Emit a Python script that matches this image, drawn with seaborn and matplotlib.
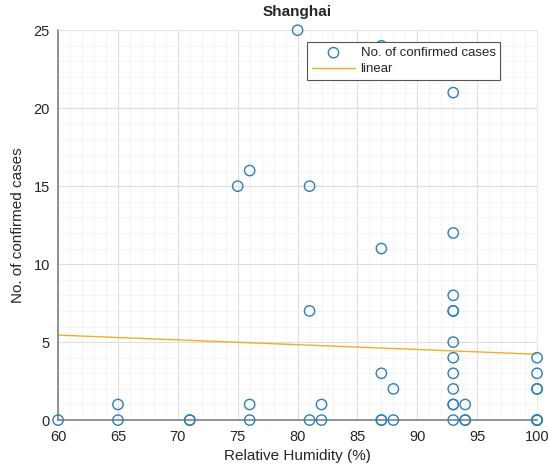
import matplotlib
matplotlib.use("Agg")
import matplotlib.pyplot as plt
import seaborn as sns
import pandas as pd
from matplotlib.ticker import MultipleLocator

humidity = [60, 65, 65, 71, 71, 75, 76, 76, 76, 80, 81, 81, 81, 82, 82,
            87, 87, 87, 87, 87, 88, 88,
            93, 93, 93, 93, 93, 93, 93, 93, 93, 93, 93, 93,
            94, 94, 94, 100, 100, 100, 100, 100, 100, 100]
cases = [0, 1, 0, 0, 0, 15, 16, 1, 0, 25, 15, 7, 0, 1, 0,
         24, 11, 3, 0, 0, 2, 0,
         21, 12, 8, 7, 7, 5, 4, 3, 2, 1, 1, 0,
         1, 0, 0, 4, 3, 2, 2, 0, 0, 0]
fit_x = [60, 100]
fit_y = [5.45, 4.22]

sns.set_style("white")
plt.rcParams['font.family'] = ['Liberation Sans', 'DejaVu Sans']

fig = plt.figure(figsize=(5.48, 4.72), dpi=100)
ax = fig.add_axes([0.106, 0.110, 0.874, 0.826])

df = pd.DataFrame({"h": humidity, "c": cases})
sns.lineplot(x=fit_x, y=fit_y, ax=ax, color="#EDB120", linewidth=1.0,
             label="linear", zorder=2)
sns.scatterplot(data=df, x="h", y="c", ax=ax, marker="o", s=55,
                facecolors="none", edgecolor="#2a7fc0", linewidth=1.0,
                label="No. of confirmed cases", clip_on=False, zorder=3)

ax.set_xlim(60, 100)
ax.set_ylim(0, 25)
ax.xaxis.set_major_locator(MultipleLocator(5))
ax.yaxis.set_major_locator(MultipleLocator(5))
ax.xaxis.set_minor_locator(MultipleLocator(1))
ax.yaxis.set_minor_locator(MultipleLocator(1))
ax.grid(True, which="major", color="#dedede", linewidth=0.8)
ax.grid(True, which="minor", color="#f2f2f2", linewidth=0.6)
ax.set_axisbelow(True)
ax.tick_params(which="major", direction="in", length=4, labelsize=10.5,
               colors="#262626", top=False, right=False)
ax.tick_params(axis="x", pad=7)
ax.tick_params(axis="y", pad=6)
ax.tick_params(which="minor", length=0)
for s in ["left", "bottom"]:
    ax.spines[s].set_color("#808080")
    ax.spines[s].set_linewidth(1.2)
for s in ["top", "right"]:
    ax.spines[s].set_color("#e6e6e6")
    ax.spines[s].set_linewidth(0.6)

ax.set_xlabel("Relative Humidity (%)", fontsize=11, color="#262626", labelpad=4)
ax.set_ylabel("No. of confirmed cases", fontsize=11, color="#262626", labelpad=6)
ax.set_title("Shanghai", fontsize=11, fontweight="bold", pad=10)

h, l = ax.get_legend_handles_labels()
leg = ax.legend(h[::-1], l[::-1], loc="upper right", bbox_to_anchor=(0.923, 0.969),
                borderaxespad=0, fontsize=9.5, frameon=True, fancybox=False,
                borderpad=0.35, labelspacing=0.3, handlelength=3.3,
                handletextpad=0.4)
leg.set_zorder(10)
leg.get_frame().set_edgecolor("#555555")
leg.get_frame().set_linewidth(0.8)
leg.get_frame().set_alpha(1)

fig.savefig("out.png", dpi=100)
